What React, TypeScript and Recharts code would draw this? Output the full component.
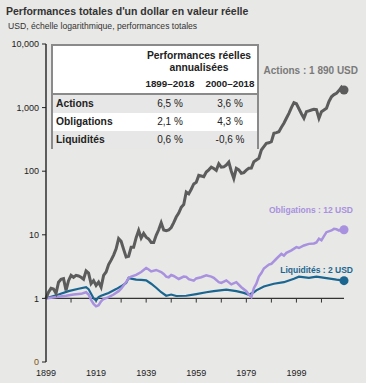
import React from 'react';
import { LineChart, Line, XAxis, YAxis, ReferenceLine } from 'recharts';

// ---- Data (real total return of 1 USD, log scale) ----
const actionsYears = [1899,1900,1901,1902,1903,1904,1905,1906,1907,1908,1909,1910,1911,1912,1913,1914,1915,1916,1917,1918,1919,1920,1921,1922,1923,1924,1925,1926,1927,1928,1929,1930,1931,1932,1933,1934,1935,1936,1937,1938,1939,1940,1941,1942,1943,1944,1945,1946,1947,1948,1949,1950,1951,1952,1953,1954,1955,1956,1957,1958,1959,1960,1961,1962,1963,1964,1965,1966,1967,1968,1969,1970,1971,1972,1973,1974,1975,1976,1977,1978,1979,1980,1981,1982,1983,1984,1985,1986,1987,1988,1989,1990,1991,1992,1993,1994,1995,1996,1997,1998,1999,2000,2001,2002,2003,2004,2005,2006,2007,2008,2009,2010,2011,2012,2013,2014,2015,2016,2017,2018];
const actionsValues = [1,1.25,1.44,1.4,1.2,1.8,2.0,2.05,1.34,1.9,2.3,2.15,2.3,2.25,2.15,2.0,2.7,2.5,1.7,1.9,1.6,1.8,1.5,2.3,2.6,3.4,4.0,4.8,6.0,8.7,7.9,5.9,4.5,4.6,6.4,6.4,9.0,11.7,8.9,10.5,9.2,8.6,7.6,7.6,9.8,12,15.5,11.9,11.6,11.9,13,15.5,19,22,27,30,47,44,52,63,67,86,84,82,97,105,116,110,103,131,116,117,125,139,100,77,111,105,93,95,104,111,112,141,150,160,215,243,275,280,291,394,405,418,490,567,680,813,1000,1195,1150,960,800,679,862,890,917,940,930,679,860,917,975,1250,1480,1600,1680,1850,2090,1890];

const obligationsYears = [1899,1903,1907,1910,1913,1915,1916,1917,1918,1919,1920,1921,1922,1924,1926,1928,1929,1931,1932,1933,1935,1937,1939,1940,1941,1943,1945,1946,1947,1948,1949,1950,1952,1954,1955,1956,1958,1959,1961,1963,1965,1966,1968,1969,1971,1973,1975,1977,1979,1980,1981,1982,1983,1984,1985,1986,1988,1989,1991,1993,1994,1995,1997,1999,2000,2002,2004,2006,2007,2008,2009,2010,2011,2013,2014,2015,2016,2017,2018];
const obligationsValues = [1,1.05,1.1,1.15,1.18,1.25,1.15,0.95,0.82,0.75,0.78,0.9,0.98,1.05,1.15,1.3,1.42,1.8,2.1,2.2,2.35,2.6,3.0,2.85,2.65,2.8,2.6,2.42,2.2,2.15,2.33,2.25,2.02,2.2,2.18,2.0,1.9,2.06,2.15,2.3,2.2,2.1,1.8,1.75,1.92,1.66,1.8,1.5,1.3,1.15,1.05,1.45,1.7,2.2,2.5,2.95,3.4,3.5,4.2,5.0,4.7,5.2,5.7,6.4,6.2,6.8,7.2,7.3,7.6,8.7,8.2,9.5,11,11.7,12.4,12.2,11.7,12.4,12];

const liquiditesYears = [1899,1904,1908,1912,1915,1916,1917,1918,1919,1920,1921,1924,1927,1929,1931,1932,1933,1935,1937,1939,1941,1943,1945,1947,1949,1951,1955,1959,1963,1966,1971,1975,1978,1980,1982,1983,1986,1990,1994,1998,2000,2004,2007,2011,2015,2018];
const liquiditesValues = [1,1.15,1.3,1.42,1.5,1.4,1.18,1.0,0.93,1.05,1.1,1.22,1.4,1.55,1.75,2.1,2.05,1.97,1.95,1.92,1.7,1.47,1.25,1.1,1.15,1.09,1.1,1.17,1.25,1.3,1.37,1.3,1.22,1.14,1.25,1.34,1.54,1.7,1.8,2.04,2.2,2.1,2.2,2.09,1.97,1.9];

const yTicks = [0.1, 1, 10, 100, 1000, 10000];
const yTickLabels = ['0', '1', '10', '100', '1,000', '10,000'];
const xTicks = [1899, 1919, 1939, 1959, 1979, 1999];
const midAxisTicks = [1909, 1919, 1929, 1939, 1949, 1959, 1969, 1979, 1989, 1999, 2009];

const tableRows = ['Actions', 'Obligations', 'Liquidités'];
const periodLabels = ['1899–2018', '2000–2018'];
const perf18992018 = ['6,5 %', '2,1 %', '0,6 %'];
const perf20002018 = ['3,6 %', '4,3 %', '-0,6 %'];

const FONT = '"Liberation Sans", Arial, Helvetica, sans-serif';
const BG = '#e8e8e6';
const C_ACT = '#5c5c5c';
const C_OBL = '#a891de';
const C_LIQ = '#1b6690';

const toData = (years: number[], vals: number[]) => years.map((y, i) => ({ year: y, v: vals[i] }));
const actionsData = toData(actionsYears, actionsValues);
const obligationsData = toData(obligationsYears, obligationsValues);
const liquiditesData = toData(liquiditesYears, liquiditesValues);

const endDot = (color: string, last: number) => (props: any) => {
  const { cx, cy, index } = props;
  if (index !== last) return <g key={`d${index}`} />;
  return <circle key={`d${index}`} cx={cx} cy={cy} r={4.5} fill={color} stroke="none" />;
};

const YTick = (props: any) => {
  const { x, y, payload } = props;
  const idx = yTicks.indexOf(payload.value);
  const label = idx >= 0 ? yTickLabels[idx] : String(payload.value);
  return (
    <text x={x} y={y} dy="0.355em" textAnchor="end" fontSize={9} fontFamily={FONT}
      fill={payload.value === 0.1 ? '#7a5418' : '#222'}>{label}</text>
  );
};

export default function App() {
  const cellGray = '#e7e7e7';
  const nw: React.CSSProperties = { whiteSpace: 'nowrap' };
  const colLeft = [87, 147];
  const colW = 60;
  return (
    <div style={{ position: 'absolute', left: 0, top: 0, width: 366, height: 383, background: BG, fontFamily: FONT, overflow: 'hidden' }}>
      <div style={{ position: 'absolute', left: 6, top: 5, fontSize: 10.5, fontWeight: 'bold', color: '#333', whiteSpace: 'nowrap', lineHeight: '13px' }}>
        Performances totales d'un dollar en valeur réelle
      </div>
      <div style={{ position: 'absolute', left: 8, top: 21, fontSize: 8.6, color: '#333', whiteSpace: 'nowrap', lineHeight: '11px' }}>
        USD, échelle logarithmique, performances totales
      </div>

      <div style={{ position: 'absolute', left: 0, top: 0 }}>
        <LineChart width={366} height={383} margin={{ top: 44, right: 22, bottom: 0, left: 0 }}>
          <XAxis dataKey="year" type="number" domain={[1899, 2018]} ticks={xTicks} allowDecimals={false}
            axisLine={false} tickLine={false} height={21} tickSize={6} tickMargin={2}
            tick={{ fontSize: 9, fill: '#222', fontFamily: FONT }} interval={0} />
          <YAxis dataKey="v" scale="log" domain={[0.1, 10000]} ticks={yTicks} allowDataOverflow width={46}
            axisLine={{ stroke: '#222', strokeWidth: 1.4 }} tickLine={{ stroke: '#222', strokeWidth: 1 }}
            tickSize={4} tickMargin={3} tick={<YTick />} interval={0} />
          <ReferenceLine y={1} stroke="#333" strokeWidth={1.3} />
          {midAxisTicks.map((t) => (
            <ReferenceLine key={t} segment={[{ x: t, y: 1 }, { x: t, y: 0.86 }]} stroke="#333" strokeWidth={1} />
          ))}
          <Line data={liquiditesData} dataKey="v" type="linear" stroke={C_LIQ} strokeWidth={2.2}
            dot={endDot(C_LIQ, liquiditesData.length - 1)} activeDot={false} isAnimationActive={false} />
          <Line data={obligationsData} dataKey="v" type="linear" stroke={C_OBL} strokeWidth={2.5}
            dot={endDot(C_OBL, obligationsData.length - 1)} activeDot={false} isAnimationActive={false} />
          <Line data={actionsData} dataKey="v" type="linear" stroke={C_ACT} strokeWidth={3}
            dot={endDot(C_ACT, actionsData.length - 1)} activeDot={false} isAnimationActive={false} />
        </LineChart>
      </div>

      {/* Table */}
      <div style={{ position: 'absolute', left: 51, top: 44, width: 208, height: 105, border: '2px solid #8a8a8a', boxSizing: 'border-box', background: '#fff', fontSize: 10, color: '#222' }}>
        <div style={{ position: 'absolute', left: 0, top: 0, width: 204, height: 47, background: '#fff', borderBottom: '2px solid #8a8a8a' }}>
          <div style={{ ...nw, position: 'absolute', left: 91, width: 110, top: 4, textAlign: 'center', fontWeight: 'bold', fontSize: 10.3, lineHeight: '12px' }}>
            Performances réelles<br />annualisées
          </div>
          {periodLabels.map((p, j) => (
            <div key={p} style={{ ...nw, position: 'absolute', left: colLeft[j], width: colW, top: 32, textAlign: 'center', fontWeight: 'bold', fontSize: 9.8, lineHeight: '12px' }}>{p}</div>
          ))}
        </div>
        {tableRows.map((r, i) => (
          <div key={r} style={{ position: 'absolute', left: 0, top: 49 + i * 18, width: 204, height: 18, background: i % 2 === 0 ? cellGray : '#fff' }}>
            <div style={{ ...nw, position: 'absolute', left: 3, top: 3, fontWeight: 'bold', fontSize: 10.3, lineHeight: '12px' }}>{r}</div>
            <div style={{ ...nw, position: 'absolute', left: colLeft[0], width: colW, top: 3, textAlign: 'center', lineHeight: '12px' }}>{perf18992018[i]}</div>
            <div style={{ ...nw, position: 'absolute', left: colLeft[1], width: colW, top: 3, textAlign: 'center', lineHeight: '12px' }}>{perf20002018[i]}</div>
          </div>
        ))}
      </div>

      {/* Annotations */}
      <div style={{ position: 'absolute', right: 8, top: 65, fontSize: 10, fontWeight: 'bold', color: '#7a7a7a', lineHeight: '11px', whiteSpace: 'nowrap' }}>Actions : 1 890 USD</div>
      <div style={{ position: 'absolute', right: 13, top: 204.5, fontSize: 8.5, fontWeight: 'bold', color: C_OBL, lineHeight: '10px', whiteSpace: 'nowrap' }}>Obligations : 12 USD</div>
      <div style={{ position: 'absolute', right: 13, top: 265, fontSize: 8.5, fontWeight: 'bold', color: C_LIQ, lineHeight: '10px', whiteSpace: 'nowrap' }}>Liquidités : 2 USD</div>
    </div>
  );
}
